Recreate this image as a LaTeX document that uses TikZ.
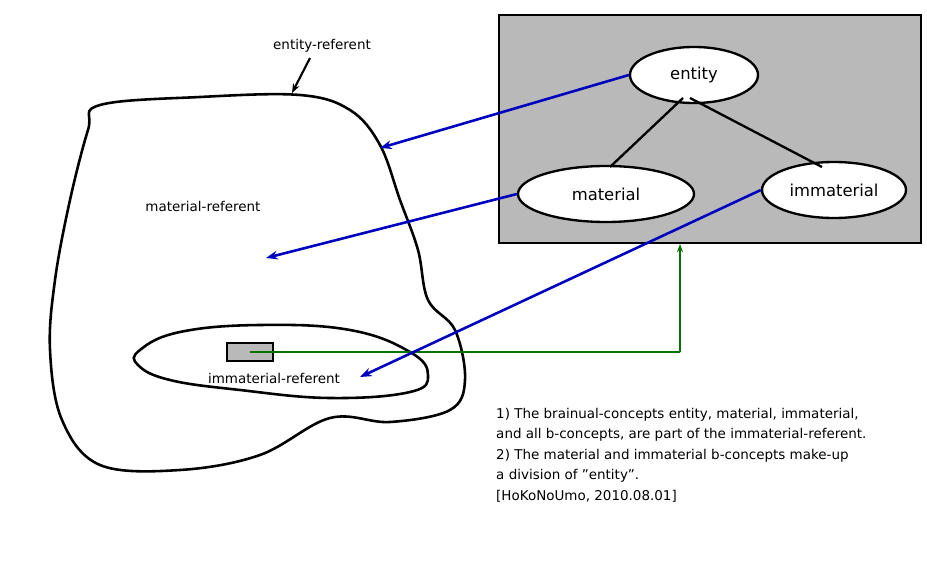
\documentclass[tikz,border=0pt]{standalone}
\usepackage{fontspec}
\setmainfont{DejaVu Sans}
\usetikzlibrary{shapes.geometric,arrows.meta}
\begin{document}
\begin{tikzpicture}[x=0.03cm,y=-0.03cm,
  el/.style={ellipse,draw=black,line width=2pt,fill=white,font=\fontsize{14}{16}\selectfont},
  ba/.style={draw=blue!75!black,line width=2.2pt,-{Stealth[length=10pt]}},
  lbl/.style={font=\fontsize{11.5}{13}\selectfont}]
\useasboundingbox (0,0) rectangle (927,567);
\draw[line width=2.2pt,fill=gray!55] (499,15) rectangle (921,243);
\node[el,minimum width=3.84cm,minimum height=1.68cm] (ent) at (694,75) {entity};
\node[el,minimum width=5.28cm,minimum height=1.68cm] (mat) at (606,194) {material};
\node[el,minimum width=4.32cm,minimum height=1.68cm] (imm) at (834,190) {immaterial};
\draw[line width=2pt] (683,98) -- (610,167);
\draw[line width=2pt] (690,98) -- (822,167);
\draw[line width=2.2pt] plot[smooth cycle,tension=0.6] coordinates {(100,105) (200,97) (300,95) (350,110) (380,145) (400,200) (418,250) (428,300) (455,330) (465,380) (450,410) (390,422) (330,418) (260,455) (180,470) (100,465) (62,420) (50,350) (55,280) (70,200) (88,130)};
\draw[line width=2.2pt] plot[smooth cycle,tension=0.7] coordinates {(140,350) (180,332) (260,325) (350,330) (410,352) (428,375) (410,392) (330,398) (240,390) (170,380) (138,365)};
\node[draw,line width=1.8pt,fill=gray!55,minimum width=1.38cm,minimum height=0.54cm,inner sep=0] (sq) at (250,352) {};
\coordinate (gc) at (680,352);
\coordinate (gt) at (680,244);
\draw[green!45!black,line width=0.9pt] (sq.center) -- (gc);
\draw[green!45!black,line width=0.9pt,-{Stealth[length=7pt]}] (gc) -- (gt);
\coordinate (a1) at (380,148);
\coordinate (a2) at (266,258);
\coordinate (a3) at (360,377);
\draw[ba] (ent.west) -- (a1);
\draw[ba] (mat.west) -- (a2);
\draw[ba] (imm.west) -- (a3);
\node[lbl] (er) at (322,46) {entity-referent};
\coordinate (erp) at (292,93);
\draw[line width=1.8pt,-{Stealth[length=8pt]}] (310,58) -- (erp);
\node[lbl] (mr) at (203,206) {material-referent};
\node[lbl] (ir) at (274,378) {immaterial-referent};
\node[lbl,anchor=north west,align=left,inner sep=0] (txt) at (496,408) {1) The brainual-concepts entity, material, immaterial,\\[4.5pt] and all b-concepts, are part of the immaterial-referent.\\[4.5pt] 2) The material and immaterial b-concepts make-up\\[4.5pt] a division of \symbol{34}entity\symbol{34}.\\[4.5pt] [HoKoNoUmo, 2010.08.01]};
\end{tikzpicture}
\end{document}
